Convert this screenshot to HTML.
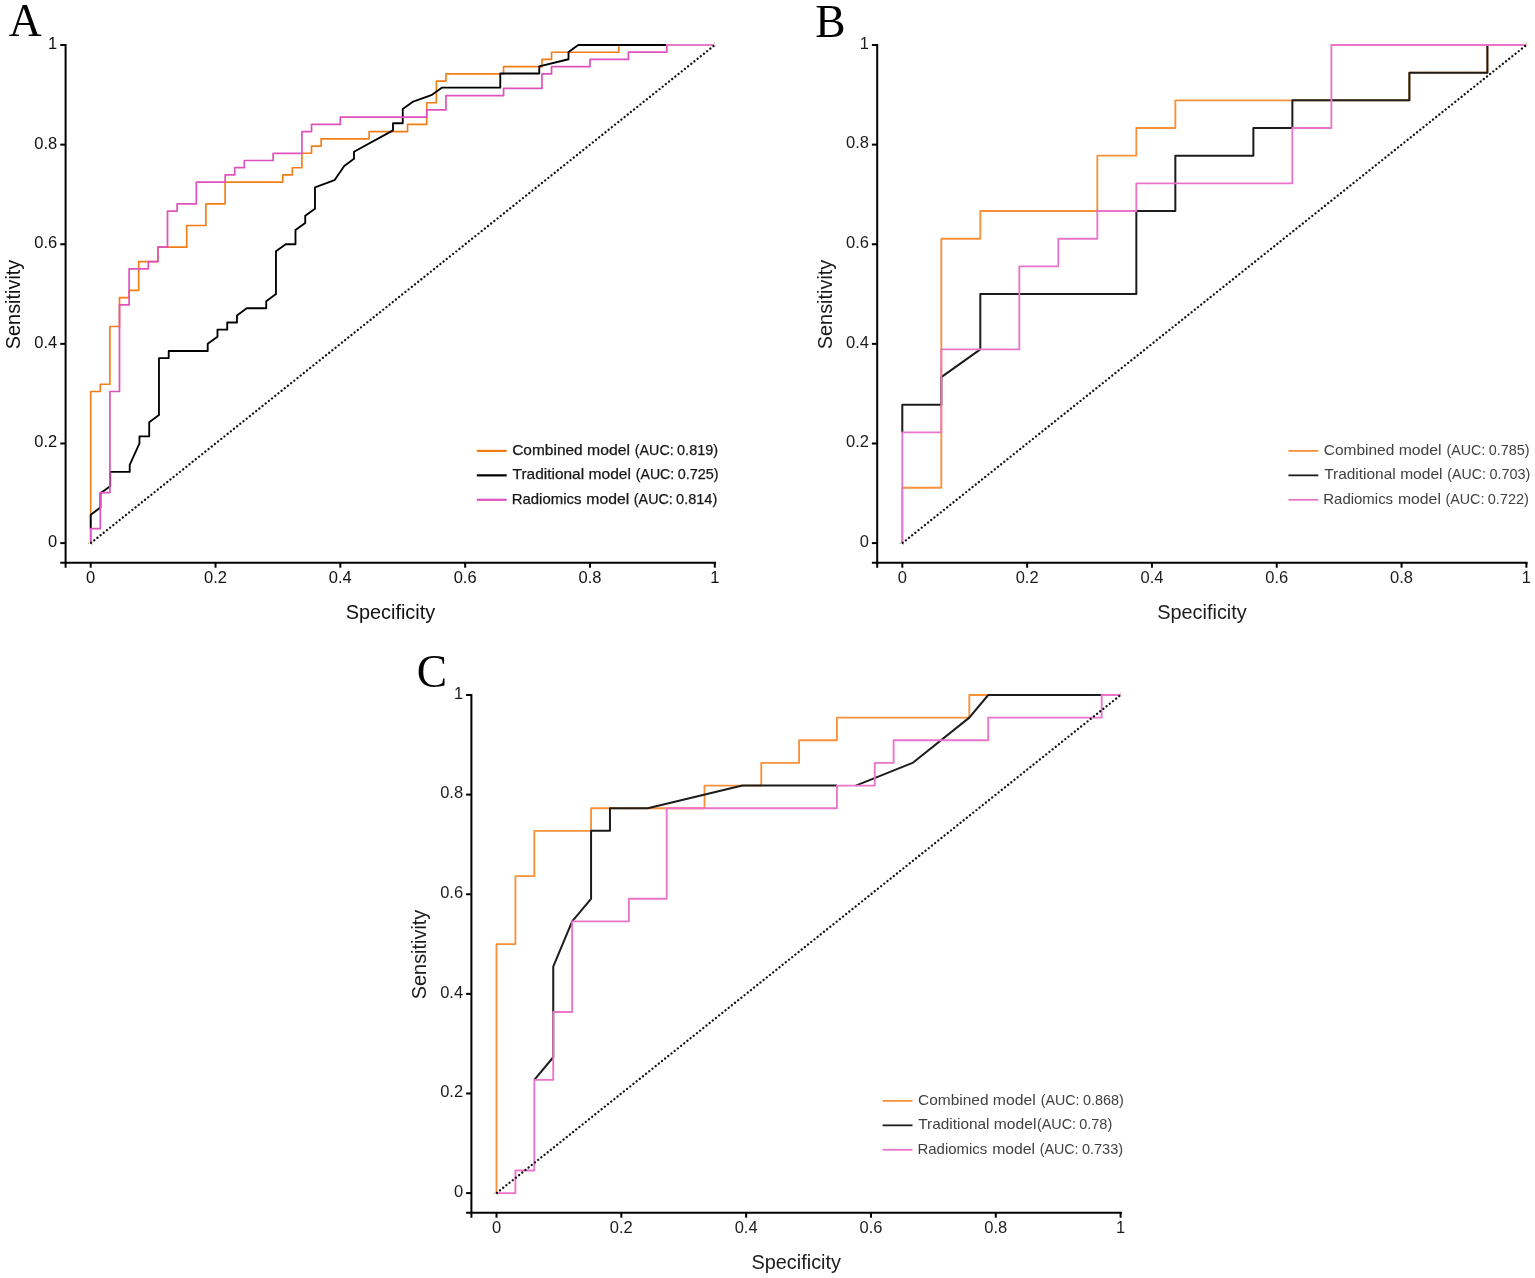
<!DOCTYPE html>
<html lang="en"><head><meta charset="utf-8"><title>ROC curves</title>
<style>
html,body{margin:0;padding:0;background:#fff}
svg{display:block}
text{font-family:"Liberation Sans",sans-serif}
.tk text{font-size:16.5px}
.ti{font-size:19.9px}
.lg{font-size:15px}
.pl{font-family:"Liberation Serif",serif;font-size:45.5px;fill:#000}
</style></head><body>
<svg width="1535" height="1278" viewBox="0 0 1535 1278">
<rect width="1535" height="1278" fill="#fff"/>
<g transform="translate(0.00,0.00)">
<polyline fill="none" stroke="#f27d16" stroke-width="1.65" stroke-linejoin="round" points="90.70,543.10 90.70,391.50 100.30,391.50 100.30,384.29 109.90,384.29 109.90,326.53 119.50,326.53 119.50,297.66 129.11,297.66 129.11,290.44 138.71,290.44 138.71,261.57 157.91,261.57 157.91,247.13 186.72,247.13 186.72,225.47 205.92,225.47 205.92,203.81 225.12,203.81 225.12,182.16 282.73,182.16 282.73,174.94 292.33,174.94 292.33,167.72 301.93,167.72 301.93,153.28 311.54,153.28 311.54,146.06 321.14,146.06 321.14,138.84 369.14,138.84 369.14,131.63 407.55,131.63 407.55,124.41 426.75,124.41 426.75,102.75 436.36,102.75 436.36,81.09 445.96,81.09 445.96,73.88 503.57,73.88 503.57,66.66 541.97,66.66 541.97,59.44 551.57,59.44 551.57,52.22 618.78,52.22 618.78,45.00"/>
<polyline fill="none" stroke="#000000" stroke-width="1.85" stroke-linejoin="round" points="90.70,528.87 90.70,514.64 100.45,507.52 100.45,493.29 110.20,486.17 110.20,471.94 129.71,471.94 129.71,464.83 139.46,443.48 139.46,436.36 149.21,436.36 149.21,422.13 158.96,415.02 158.96,358.09 168.71,358.09 168.71,350.98 207.72,350.98 207.72,343.86 217.47,336.74 217.47,329.63 227.22,329.63 227.22,322.51 236.97,322.51 236.97,315.40 246.72,308.28 266.23,308.28 266.23,301.17 275.98,294.05 275.98,251.36 285.73,244.24 295.48,244.24 295.48,230.01 305.23,222.89 305.23,215.78 314.99,208.66 314.99,187.31 334.49,180.20 344.24,165.97 353.99,158.85 353.99,151.74 393.00,130.39 393.00,123.27 402.75,123.27 402.75,109.04 412.50,101.93 432.00,94.81 441.76,87.69 500.27,87.69 500.27,73.46 539.27,73.46 539.27,66.35 568.53,59.23 568.53,52.12 578.28,45.00 666.04,45.00"/>
<polyline fill="none" stroke="#df52bd" stroke-width="1.70" stroke-linejoin="round" points="90.70,543.10 90.70,528.66 100.30,528.66 100.30,492.57 109.90,492.57 109.90,391.50 119.50,391.50 119.50,304.88 129.11,304.88 129.11,268.78 148.31,268.78 148.31,261.57 157.91,261.57 157.91,247.13 167.51,247.13 167.51,211.03 177.11,211.03 177.11,203.81 196.32,203.81 196.32,182.16 225.12,182.16 225.12,174.94 234.72,174.94 234.72,167.72 244.32,167.72 244.32,160.50 273.13,160.50 273.13,153.28 301.93,153.28 301.93,131.63 311.54,131.63 311.54,124.41 340.34,124.41 340.34,117.19 426.75,117.19 426.75,109.97 445.96,109.97 445.96,95.53 503.57,95.53 503.57,88.31 541.97,88.31 541.97,73.88 551.57,73.88 551.57,66.66 589.98,66.66 589.98,59.44 628.39,59.44 628.39,52.22 666.79,52.22 666.79,45.00 713.94,45.00"/>
<line x1="90.70" y1="543.10" x2="714.80" y2="45.00" stroke="#111" stroke-width="2.3" stroke-linecap="round" stroke-dasharray="0.01 4.053" stroke-dashoffset="-0.45"/>
<circle cx="714.50" cy="43.00" r="0.65" fill="#c4ab7c"/>
<circle cx="715.20" cy="45.80" r="0.65" fill="#c4ab7c"/>
<circle cx="88.50" cy="543.40" r="0.65" fill="#c4ab7c"/>
<circle cx="92.00" cy="544.60" r="0.65" fill="#c4ab7c"/>
<g stroke="#000" stroke-width="2" fill="none">
<line x1="65.60" y1="44.00" x2="65.60" y2="567.70"/>
<line x1="60.30" y1="562.80" x2="716.00" y2="562.80"/>
<line x1="60.30" y1="543.10" x2="65.60" y2="543.10"/>
<line x1="90.70" y1="562.80" x2="90.70" y2="567.70"/>
<line x1="60.30" y1="443.48" x2="65.60" y2="443.48"/>
<line x1="215.52" y1="562.80" x2="215.52" y2="567.70"/>
<line x1="60.30" y1="343.86" x2="65.60" y2="343.86"/>
<line x1="340.34" y1="562.80" x2="340.34" y2="567.70"/>
<line x1="60.30" y1="244.24" x2="65.60" y2="244.24"/>
<line x1="465.16" y1="562.80" x2="465.16" y2="567.70"/>
<line x1="60.30" y1="144.62" x2="65.60" y2="144.62"/>
<line x1="589.98" y1="562.80" x2="589.98" y2="567.70"/>
<line x1="60.30" y1="45.00" x2="65.60" y2="45.00"/>
<line x1="714.80" y1="562.80" x2="714.80" y2="567.70"/>
</g>
<g class="tk" fill="#111">
<text x="57.3" y="547.10" text-anchor="end">0</text>
<text x="90.70" y="583.2" text-anchor="middle">0</text>
<text x="57.3" y="447.48" text-anchor="end">0.2</text>
<text x="215.52" y="583.2" text-anchor="middle">0.2</text>
<text x="57.3" y="347.86" text-anchor="end">0.4</text>
<text x="340.34" y="583.2" text-anchor="middle">0.4</text>
<text x="57.3" y="248.24" text-anchor="end">0.6</text>
<text x="465.16" y="583.2" text-anchor="middle">0.6</text>
<text x="57.3" y="148.62" text-anchor="end">0.8</text>
<text x="589.98" y="583.2" text-anchor="middle">0.8</text>
<text x="57.3" y="49.00" text-anchor="end">1</text>
<text x="714.80" y="583.2" text-anchor="middle">1</text>
</g>
<text class="ti" fill="#111" transform="translate(19.60,304.5) rotate(-90)" text-anchor="middle">Sensitivity</text>
<text class="ti" fill="#111" x="390.4" y="619.2" text-anchor="middle">Specificity</text>
<line x1="476.8" y1="450.90" x2="506.7" y2="450.90" stroke="#f27d16" stroke-width="2.20"/>
<text class="lg" fill="#161616" stroke="#161616" stroke-width="0.25" y="455.10"><tspan x="512.18" textLength="70.52" lengthAdjust="spacingAndGlyphs">Combined</tspan> <tspan x="587.05" textLength="42.96" lengthAdjust="spacingAndGlyphs">model</tspan> <tspan x="634.84" textLength="38.82" lengthAdjust="spacingAndGlyphs">(AUC:</tspan> <tspan x="677.12" textLength="40.87" lengthAdjust="spacingAndGlyphs">0.819)</tspan></text>
<line x1="476.8" y1="475.35" x2="506.7" y2="475.35" stroke="#000000" stroke-width="2.20"/>
<text class="lg" fill="#161616" stroke="#161616" stroke-width="0.25" y="479.35"><tspan x="512.59" textLength="71.52" lengthAdjust="spacingAndGlyphs">Traditional</tspan> <tspan x="588.56" textLength="42.43" lengthAdjust="spacingAndGlyphs">model</tspan> <tspan x="635.75" textLength="38.51" lengthAdjust="spacingAndGlyphs">(AUC:</tspan> <tspan x="677.82" textLength="40.87" lengthAdjust="spacingAndGlyphs">0.725)</tspan></text>
<line x1="476.8" y1="499.80" x2="506.7" y2="499.80" stroke="#df52bd" stroke-width="2.20"/>
<text class="lg" fill="#161616" stroke="#161616" stroke-width="0.25" y="503.60"><tspan x="511.70" textLength="69.82" lengthAdjust="spacingAndGlyphs">Radiomics</tspan> <tspan x="586.35" textLength="42.96" lengthAdjust="spacingAndGlyphs">model</tspan> <tspan x="633.84" textLength="38.93" lengthAdjust="spacingAndGlyphs">(AUC:</tspan> <tspan x="676.12" textLength="41.18" lengthAdjust="spacingAndGlyphs">0.814)</tspan></text>
</g>
<text class="pl" x="8.70" y="36.00">A</text>
<g transform="translate(811.60,0.00)">
<polyline fill="none" stroke="#f8913a" stroke-width="1.85" stroke-linejoin="round" points="90.70,543.10 90.70,487.76 129.71,487.76 129.71,238.71 168.71,238.71 168.71,211.03 285.73,211.03 285.73,155.69 324.74,155.69 324.74,128.02 363.74,128.02 363.74,100.34 597.78,100.34 597.78,72.67 675.79,72.67 675.79,45.00 714.80,45.00"/>
<polyline fill="none" stroke="#1c1c1c" stroke-width="2.00" stroke-linejoin="round" points="90.70,432.41 90.70,404.74 129.71,404.74 129.71,377.07 168.71,349.39 168.71,294.05 324.74,294.05 324.74,211.03 363.74,211.03 363.74,155.69 441.76,155.69 441.76,128.02 480.76,128.02 480.76,100.34 597.78,100.34 597.78,72.67 675.79,72.67 675.79,45.00"/>
<polyline fill="none" stroke="#e974c9" stroke-width="1.85" stroke-linejoin="round" points="90.70,543.10 90.70,432.41 129.71,432.41 129.71,349.39 207.72,349.39 207.72,266.38 246.72,266.38 246.72,238.71 285.73,238.71 285.73,211.03 324.74,211.03 324.74,183.36 480.76,183.36 480.76,128.02 519.77,128.02 519.77,45.00 713.86,45.00"/>
<line x1="90.70" y1="543.10" x2="714.80" y2="45.00" stroke="#111" stroke-width="2.3" stroke-linecap="round" stroke-dasharray="0.01 4.053" stroke-dashoffset="-0.45"/>
<circle cx="714.50" cy="43.00" r="0.65" fill="#c4ab7c"/>
<circle cx="715.20" cy="45.80" r="0.65" fill="#c4ab7c"/>
<circle cx="88.50" cy="543.40" r="0.65" fill="#c4ab7c"/>
<circle cx="92.00" cy="544.60" r="0.65" fill="#c4ab7c"/>
<g stroke="#000" stroke-width="2" fill="none">
<line x1="65.60" y1="44.00" x2="65.60" y2="567.70"/>
<line x1="60.30" y1="562.80" x2="716.00" y2="562.80"/>
<line x1="60.30" y1="543.10" x2="65.60" y2="543.10"/>
<line x1="90.70" y1="562.80" x2="90.70" y2="567.70"/>
<line x1="60.30" y1="443.48" x2="65.60" y2="443.48"/>
<line x1="215.52" y1="562.80" x2="215.52" y2="567.70"/>
<line x1="60.30" y1="343.86" x2="65.60" y2="343.86"/>
<line x1="340.34" y1="562.80" x2="340.34" y2="567.70"/>
<line x1="60.30" y1="244.24" x2="65.60" y2="244.24"/>
<line x1="465.16" y1="562.80" x2="465.16" y2="567.70"/>
<line x1="60.30" y1="144.62" x2="65.60" y2="144.62"/>
<line x1="589.98" y1="562.80" x2="589.98" y2="567.70"/>
<line x1="60.30" y1="45.00" x2="65.60" y2="45.00"/>
<line x1="714.80" y1="562.80" x2="714.80" y2="567.70"/>
</g>
<g class="tk" fill="#1c1c1c">
<text x="57.3" y="546.80" text-anchor="end">0</text>
<text x="90.70" y="583.2" text-anchor="middle">0</text>
<text x="57.3" y="447.18" text-anchor="end">0.2</text>
<text x="215.52" y="583.2" text-anchor="middle">0.2</text>
<text x="57.3" y="347.56" text-anchor="end">0.4</text>
<text x="340.34" y="583.2" text-anchor="middle">0.4</text>
<text x="57.3" y="247.94" text-anchor="end">0.6</text>
<text x="465.16" y="583.2" text-anchor="middle">0.6</text>
<text x="57.3" y="148.32" text-anchor="end">0.8</text>
<text x="589.98" y="583.2" text-anchor="middle">0.8</text>
<text x="57.3" y="48.70" text-anchor="end">1</text>
<text x="714.80" y="583.2" text-anchor="middle">1</text>
</g>
<text class="ti" fill="#1c1c1c" transform="translate(20.10,304.5) rotate(-90)" text-anchor="middle">Sensitivity</text>
<text class="ti" fill="#1c1c1c" x="390.4" y="619.2" text-anchor="middle">Specificity</text>
<line x1="476.8" y1="450.90" x2="506.7" y2="450.90" stroke="#f8913a" stroke-width="1.80"/>
<text class="lg" fill="#404040" y="455.10"><tspan x="512.18" textLength="70.52" lengthAdjust="spacingAndGlyphs">Combined</tspan> <tspan x="587.05" textLength="42.96" lengthAdjust="spacingAndGlyphs">model</tspan> <tspan x="634.84" textLength="38.82" lengthAdjust="spacingAndGlyphs">(AUC:</tspan> <tspan x="677.12" textLength="40.87" lengthAdjust="spacingAndGlyphs">0.785)</tspan></text>
<line x1="476.8" y1="475.35" x2="506.7" y2="475.35" stroke="#1c1c1c" stroke-width="1.80"/>
<text class="lg" fill="#404040" y="479.35"><tspan x="512.59" textLength="71.52" lengthAdjust="spacingAndGlyphs">Traditional</tspan> <tspan x="588.56" textLength="42.43" lengthAdjust="spacingAndGlyphs">model</tspan> <tspan x="635.75" textLength="38.51" lengthAdjust="spacingAndGlyphs">(AUC:</tspan> <tspan x="677.82" textLength="40.87" lengthAdjust="spacingAndGlyphs">0.703)</tspan></text>
<line x1="476.8" y1="499.80" x2="506.7" y2="499.80" stroke="#e974c9" stroke-width="1.80"/>
<text class="lg" fill="#404040" y="503.60"><tspan x="511.70" textLength="69.82" lengthAdjust="spacingAndGlyphs">Radiomics</tspan> <tspan x="586.35" textLength="42.96" lengthAdjust="spacingAndGlyphs">model</tspan> <tspan x="633.84" textLength="38.93" lengthAdjust="spacingAndGlyphs">(AUC:</tspan> <tspan x="676.12" textLength="41.18" lengthAdjust="spacingAndGlyphs">0.722)</tspan></text>
</g>
<text class="pl" x="815.20" y="36.60">B</text>
<g transform="translate(405.80,650.00)">
<polyline fill="none" stroke="#f8913a" stroke-width="1.85" stroke-linejoin="round" points="90.70,543.10 90.70,294.05 109.61,294.05 109.61,226.13 128.52,226.13 128.52,180.85 185.26,180.85 185.26,158.20 298.73,158.20 298.73,135.56 355.47,135.56 355.47,112.92 393.29,112.92 393.29,90.28 431.12,90.28 431.12,67.64 563.50,67.64 563.50,45.00 582.42,45.00"/>
<polyline fill="none" stroke="#1c1c1c" stroke-width="2.00" stroke-linejoin="round" points="128.52,429.90 147.44,407.25 147.44,316.69 166.35,271.41 185.26,248.77 185.26,180.85 204.17,180.85 204.17,158.20 242.00,158.20 336.56,135.56 431.12,135.56"/>
<polyline fill="none" stroke="#1c1c1c" stroke-width="2.00" stroke-linejoin="round" points="450.03,135.56 506.77,112.92 563.50,67.64 582.42,45.00 695.89,45.00"/>
<polyline fill="none" stroke="#e974c9" stroke-width="1.85" stroke-linejoin="round" points="90.70,543.10 109.61,543.10 109.61,520.46 128.52,520.46 128.52,429.90 147.44,429.90 147.44,361.97 166.35,361.97 166.35,271.41 223.08,271.41 223.08,248.77 260.91,248.77 260.91,158.20 431.12,158.20 431.12,135.56 468.94,135.56 468.94,112.92 487.85,112.92 487.85,90.28 582.42,90.28 582.42,67.64 695.89,67.64 695.89,45.00 714.80,45.00"/>
<line x1="90.70" y1="543.10" x2="714.80" y2="45.00" stroke="#111" stroke-width="2.3" stroke-linecap="round" stroke-dasharray="0.01 4.053" stroke-dashoffset="-0.45"/>
<circle cx="714.50" cy="43.00" r="0.65" fill="#c4ab7c"/>
<circle cx="715.20" cy="45.80" r="0.65" fill="#c4ab7c"/>
<circle cx="88.50" cy="543.40" r="0.65" fill="#c4ab7c"/>
<circle cx="92.00" cy="544.60" r="0.65" fill="#c4ab7c"/>
<g stroke="#000" stroke-width="2" fill="none">
<line x1="65.60" y1="44.00" x2="65.60" y2="567.70"/>
<line x1="60.30" y1="562.80" x2="716.00" y2="562.80"/>
<line x1="60.30" y1="543.10" x2="65.60" y2="543.10"/>
<line x1="90.70" y1="562.80" x2="90.70" y2="567.70"/>
<line x1="60.30" y1="443.48" x2="65.60" y2="443.48"/>
<line x1="215.52" y1="562.80" x2="215.52" y2="567.70"/>
<line x1="60.30" y1="343.86" x2="65.60" y2="343.86"/>
<line x1="340.34" y1="562.80" x2="340.34" y2="567.70"/>
<line x1="60.30" y1="244.24" x2="65.60" y2="244.24"/>
<line x1="465.16" y1="562.80" x2="465.16" y2="567.70"/>
<line x1="60.30" y1="144.62" x2="65.60" y2="144.62"/>
<line x1="589.98" y1="562.80" x2="589.98" y2="567.70"/>
<line x1="60.30" y1="45.00" x2="65.60" y2="45.00"/>
<line x1="714.80" y1="562.80" x2="714.80" y2="567.70"/>
</g>
<g class="tk" fill="#1c1c1c">
<text x="57.3" y="546.80" text-anchor="end">0</text>
<text x="90.70" y="583.2" text-anchor="middle">0</text>
<text x="57.3" y="447.18" text-anchor="end">0.2</text>
<text x="215.52" y="583.2" text-anchor="middle">0.2</text>
<text x="57.3" y="347.56" text-anchor="end">0.4</text>
<text x="340.34" y="583.2" text-anchor="middle">0.4</text>
<text x="57.3" y="247.94" text-anchor="end">0.6</text>
<text x="465.16" y="583.2" text-anchor="middle">0.6</text>
<text x="57.3" y="148.32" text-anchor="end">0.8</text>
<text x="589.98" y="583.2" text-anchor="middle">0.8</text>
<text x="57.3" y="48.70" text-anchor="end">1</text>
<text x="714.80" y="583.2" text-anchor="middle">1</text>
</g>
<text class="ti" fill="#1c1c1c" transform="translate(20.40,304.5) rotate(-90)" text-anchor="middle">Sensitivity</text>
<text class="ti" fill="#1c1c1c" x="390.4" y="619.2" text-anchor="middle">Specificity</text>
<line x1="476.8" y1="450.90" x2="506.7" y2="450.90" stroke="#f8913a" stroke-width="1.80"/>
<text class="lg" fill="#404040" y="455.10"><tspan x="512.18" textLength="70.52" lengthAdjust="spacingAndGlyphs">Combined</tspan> <tspan x="587.05" textLength="42.96" lengthAdjust="spacingAndGlyphs">model</tspan> <tspan x="634.84" textLength="38.82" lengthAdjust="spacingAndGlyphs">(AUC:</tspan> <tspan x="677.12" textLength="40.87" lengthAdjust="spacingAndGlyphs">0.868)</tspan></text>
<line x1="476.8" y1="475.35" x2="506.7" y2="475.35" stroke="#1c1c1c" stroke-width="1.80"/>
<text class="lg" fill="#404040" y="479.35"><tspan x="512.49" textLength="71.21" lengthAdjust="spacingAndGlyphs">Traditional</tspan> <tspan x="587.96" textLength="42.64" lengthAdjust="spacingAndGlyphs">model</tspan><tspan x="631.14" textLength="39.14" lengthAdjust="spacingAndGlyphs">(AUC:</tspan> <tspan x="673.42" textLength="33.04" lengthAdjust="spacingAndGlyphs">0.78)</tspan></text>
<line x1="476.8" y1="499.80" x2="506.7" y2="499.80" stroke="#e974c9" stroke-width="1.80"/>
<text class="lg" fill="#404040" y="503.60"><tspan x="511.70" textLength="69.82" lengthAdjust="spacingAndGlyphs">Radiomics</tspan> <tspan x="586.35" textLength="42.96" lengthAdjust="spacingAndGlyphs">model</tspan> <tspan x="633.84" textLength="38.93" lengthAdjust="spacingAndGlyphs">(AUC:</tspan> <tspan x="676.12" textLength="41.18" lengthAdjust="spacingAndGlyphs">0.733)</tspan></text>
</g>
<text class="pl" x="416.70" y="687.30">C</text>
</svg>
</body></html>
